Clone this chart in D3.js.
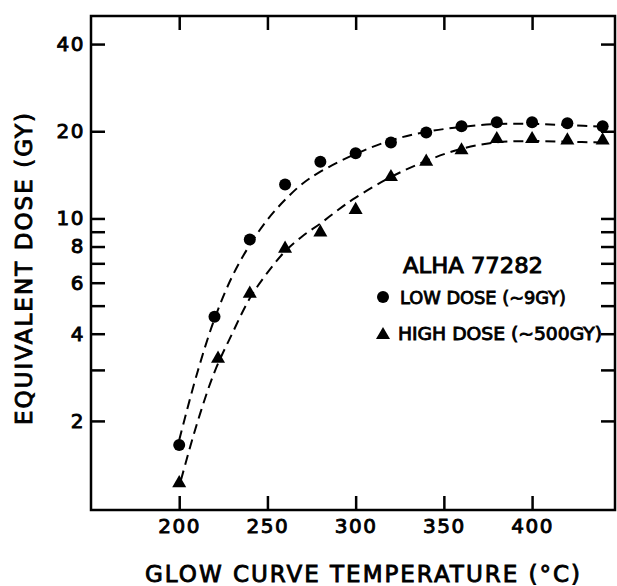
<!DOCTYPE html>
<html>
<head>
<meta charset="utf-8">
<script src="https://cdn.jsdelivr.net/npm/d3@7"></script>
<style>
  body { margin: 0; background: #fff; }
  text { font-family: "DejaVu Sans", sans-serif; fill: #000; stroke: #000; stroke-width: 0.9px; }
</style>
</head>
<body>
<div id="chart"></div>
<script>
// page set up
const FRAME_WIDTH = 617;
const FRAME_HEIGHT = 586;
const PLOT = {left: 91, right: 615, top: 16, bottom: 510};

// measured points
const LOW_TEMPS = [200, 220, 240, 260, 280, 300, 320, 340, 360, 380, 400, 420, 440];
const LOW_DOSE = [1.65, 4.58, 8.46, 13.1, 15.7, 16.8, 18.3, 19.8, 20.8, 21.5, 21.5, 21.3, 20.8];
const HIGH_TEMPS = [200, 222, 240, 260, 280, 300, 320, 340, 360, 380, 400, 420, 440];
const HIGH_DOSE = [1.22, 3.28, 5.5, 7.87, 8.95, 10.7, 13.9, 15.7, 17.2, 18.8, 18.8, 18.6, 18.6];

// dashed fit curves
const LOW_FIT_TEMPS = [200, 210, 220, 230, 240, 250, 260, 270, 280, 300, 320, 340, 360, 380, 400, 420, 442];
const LOW_FIT = [1.72, 2.9, 4.5, 6.3, 8.1, 9.9, 11.6, 13.2, 14.5, 16.7, 18.6, 19.9, 20.7, 21.2, 21.2, 21.0, 20.7];
const HIGH_FIT_TEMPS = [201, 210, 220, 230, 240, 250, 260, 270, 280, 290, 300, 320, 340, 360, 380, 400, 420, 440];
const HIGH_FIT = [1.25, 1.95, 2.95, 4.0, 5.3, 6.5, 7.7, 8.7, 9.6, 10.7, 11.8, 13.9, 15.8, 17.4, 18.3, 18.5, 18.4, 18.3];

// ticks
const X_TICKS = [200, 250, 300, 350, 400];
const Y_TICKS = [2, 3, 4, 5, 6, 7, 8, 9, 10, 20, 40];
const Y_LABELS = [2, 4, 6, 8, 10, 20, 40];

const SVG = d3.select("#chart")
  .append("svg")
  .attr("width", FRAME_WIDTH)
  .attr("height", FRAME_HEIGHT);

const X_SCALE = d3.scaleLinear()
  .domain([150, 447])
  .range([PLOT.left, PLOT.right]);

const Y_SCALE = d3.scaleLog()
  .domain([0.985, 50])
  .range([PLOT.bottom, PLOT.top]);

// frame
SVG.append("rect")
  .attr("x", PLOT.left)
  .attr("y", PLOT.top)
  .attr("width", PLOT.right - PLOT.left)
  .attr("height", PLOT.bottom - PLOT.top)
  .attr("fill", "none")
  .attr("stroke", "#000")
  .attr("stroke-width", 2.5);

function styleAxis(g) {
  g.select(".domain").remove();
  g.selectAll(".tick line").attr("stroke", "#000").attr("stroke-width", 2.5);
  g.selectAll(".tick text")
    .attr("font-size", "20px")
    .attr("letter-spacing", "1.5px")
    .attr("fill", "#000");
}

// bottom axis with labels
SVG.append("g")
  .attr("transform", "translate(0," + PLOT.bottom + ")")
  .call(d3.axisBottom(X_SCALE).tickValues(X_TICKS).tickSize(-14).tickPadding(9))
  .call(styleAxis);

// top axis ticks only
SVG.append("g")
  .attr("transform", "translate(0," + PLOT.top + ")")
  .call(d3.axisTop(X_SCALE).tickValues(X_TICKS).tickSize(-14).tickFormat(""))
  .call(styleAxis);

// left axis with labels
SVG.append("g")
  .attr("transform", "translate(" + PLOT.left + ",0)")
  .call(d3.axisLeft(Y_SCALE).tickValues(Y_TICKS).tickSize(-14).tickPadding(6)
    .tickFormat((d) => { return Y_LABELS.includes(d) ? d : ""; }))
  .call(styleAxis);

// right axis ticks only
SVG.append("g")
  .attr("transform", "translate(" + PLOT.right + ",0)")
  .call(d3.axisRight(Y_SCALE).tickValues(Y_TICKS).tickSize(-14).tickFormat(""))
  .call(styleAxis);

// fit curves
const line = d3.line()
  .x((d) => { return X_SCALE(d[0]); })
  .y((d) => { return Y_SCALE(d[1]); })
  .curve(d3.curveCatmullRom.alpha(0.5));

[[LOW_FIT_TEMPS, LOW_FIT], [HIGH_FIT_TEMPS, HIGH_FIT]].forEach((pair) => {
  SVG.append("path")
    .datum(pair[0].map((t, i) => { return [t, pair[1][i]]; }))
    .attr("d", line)
    .attr("fill", "none")
    .attr("stroke", "#000")
    .attr("stroke-width", 2)
    .attr("stroke-dasharray", "10,6");
});

// low dose points
SVG.selectAll(".low")
  .data(LOW_TEMPS.map((t, i) => { return [t, LOW_DOSE[i]]; }))
  .enter()
  .append("circle")
  .attr("class", "low")
  .attr("cx", (d) => { return X_SCALE(d[0]); })
  .attr("cy", (d) => { return Y_SCALE(d[1]); })
  .attr("r", 6)
  .attr("fill", "#000");

// high dose points
const triangle = d3.symbol().type(d3.symbolTriangle).size(85);
SVG.selectAll(".high")
  .data(HIGH_TEMPS.map((t, i) => { return [t, HIGH_DOSE[i]]; }))
  .enter()
  .append("path")
  .attr("class", "high")
  .attr("d", triangle)
  .attr("transform", (d) => { return "translate(" + X_SCALE(d[0]) + "," + Y_SCALE(d[1]) + ")"; })
  .attr("fill", "#000");

// legend
SVG.append("text")
  .attr("x", 403).attr("y", 273)
  .attr("font-size", "21px")
  .attr("textLength", 140).attr("lengthAdjust", "spacingAndGlyphs")
  .text("ALHA  77282");

SVG.append("circle")
  .attr("cx", 383).attr("cy", 297).attr("r", 6).attr("fill", "#000");
SVG.append("text")
  .attr("x", 400).attr("y", 304)
  .attr("font-size", "18px")
  .attr("textLength", 166).attr("lengthAdjust", "spacingAndGlyphs")
  .text("LOW DOSE (∼9GY)");

SVG.append("path")
  .attr("d", triangle)
  .attr("transform", "translate(383,335)")
  .attr("fill", "#000");
SVG.append("text")
  .attr("x", 398).attr("y", 340)
  .attr("font-size", "18px")
  .attr("textLength", 204).attr("lengthAdjust", "spacingAndGlyphs")
  .text("HIGH DOSE (∼500GY)");

// axis titles
SVG.append("text")
  .attr("x", 145).attr("y", 582)
  .attr("font-size", "23px")
  .attr("textLength", 435).attr("lengthAdjust", "spacing")
  .text("GLOW  CURVE  TEMPERATURE  (°C)");

SVG.append("text")
  .attr("transform", "translate(32,425) rotate(-90)")
  .attr("font-size", "23px")
  .attr("textLength", 312).attr("lengthAdjust", "spacing")
  .text("EQUIVALENT  DOSE  (GY)");
</script>
</body>
</html>
